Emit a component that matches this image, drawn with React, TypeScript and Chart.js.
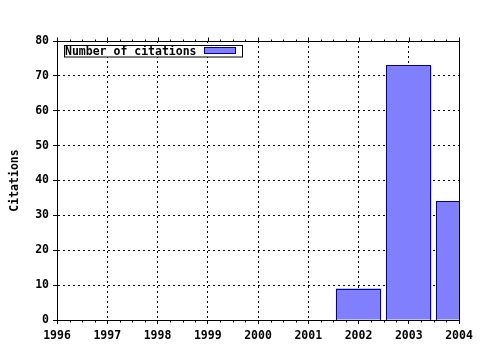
import React, { useEffect, useRef } from 'react';
import { Chart, registerables } from 'chart.js';

Chart.register(...registerables);

// ---- data ----
const years = [2002, 2003, 2004];
const citations = [9, 73, 34];
const xMin = 1996;
const xMax = 2004;
const yMin = 0;
const yMax = 80;
const yStep = 10;
const seriesLabel = 'Number of citations';
const yTitle = 'Citations';

const FONT_FAMILY = "'DejaVu Sans Mono', 'Liberation Mono', monospace";
const FONT_SIZE = 11.5;
const BAR_FILL = '#8080ff';
const BAR_EDGE = '#0000a0';

export default function App() {
  const ref = useRef<HTMLCanvasElement>(null);

  useEffect(() => {
    document.body.style.margin = '0';
    const canvas = ref.current;
    if (!canvas) return;
    const font = { family: FONT_FAMILY, size: FONT_SIZE, weight: 'bold' as const };

    const framePlugin = {
      id: 'frameAndLegend',
      afterDatasetsDraw(chart: any) {
        // crisp bar outlines using the library's bar geometry
        const { ctx, chartArea } = chart;
        const meta = chart.getDatasetMeta(0);
        ctx.save();
        ctx.beginPath();
        ctx.rect(chartArea.left, chartArea.top, chartArea.right - chartArea.left + 1, chartArea.bottom - chartArea.top + 1);
        ctx.clip();
        ctx.strokeStyle = BAR_EDGE;
        ctx.lineWidth = 1;
        ctx.setLineDash([]);
        meta.data.forEach((el: any) => {
          const { x, y, base, width } = el.getProps(['x', 'y', 'base', 'width'], true);
          const l = Math.round(x - width / 2) + 0.5;
          const r = Math.round(x + width / 2) - 0.5;
          const t = Math.round(y) + 0.5;
          const b = Math.round(base) + 0.5;
          ctx.strokeRect(l, t, r - l, b - t);
        });
        ctx.restore();
      },
      afterDraw(chart: any) {
        const { ctx, chartArea } = chart;
        const xs = chart.scales.x;
        const l = Math.round(chartArea.left) + 0.5;
        const r = Math.round(chartArea.right) + 0.5;
        const t = Math.round(chartArea.top) + 0.5;
        const b = Math.round(chartArea.bottom) + 0.5;
        ctx.save();
        ctx.setLineDash([]);
        ctx.strokeStyle = '#000';
        ctx.lineWidth = 1;
        ctx.strokeRect(l, t, r - l, b - t);
        // minor / mirrored ticks on x axis
        ctx.beginPath();
        for (let v = xMin; v <= xMax + 1e-9; v += 0.25) {
          const px = Math.round(xs.getPixelForValue(v)) + 0.5;
          const major = Math.abs(v - Math.round(v)) < 1e-6;
          if (!major) {
            ctx.moveTo(px, b);
            ctx.lineTo(px, b + 2);
            ctx.moveTo(px, t);
            ctx.lineTo(px, t - 2);
          } else {
            ctx.moveTo(px, t);
            ctx.lineTo(px, t - 4);
          }
        }
        ctx.stroke();

        // legend
        const bx = 64.5, by = 45.5, bw = 178, bh = 11.5;
        ctx.fillStyle = '#fff';
        ctx.fillRect(bx, by, bw, bh);
        ctx.strokeRect(bx, by, bw, bh);
        ctx.fillStyle = '#000';
        ctx.font = `bold ${FONT_SIZE}px ${FONT_FAMILY}`;
        ctx.textBaseline = 'alphabetic';
        ctx.textAlign = 'left';
        ctx.fillText(seriesLabel, 65, 55);
        ctx.fillStyle = BAR_FILL;
        ctx.fillRect(204.5, 47.5, 31, 6);
        ctx.strokeStyle = BAR_EDGE;
        ctx.strokeRect(204.5, 47.5, 31, 6);
        ctx.restore();
      },
    };

    const chart = new Chart(canvas, {
      type: 'bar',
      data: {
        datasets: [
          {
            label: seriesLabel,
            data: years.map((y, i) => ({ x: y, y: citations[i] })),
            backgroundColor: BAR_FILL,
            borderColor: BAR_EDGE,
            borderWidth: 0,
            barPercentage: 0.9,
            categoryPercentage: 1,
          },
        ],
      },
      options: {
        responsive: false,
        animation: false,
        devicePixelRatio: 1,
        layout: { padding: { top: 41, right: 21, left: 0, bottom: 0 } },
        plugins: {
          legend: { display: false },
          tooltip: { enabled: false },
        },
        scales: {
          x: {
            type: 'linear',
            min: xMin,
            max: xMax,
            offset: false,
            ticks: {
              stepSize: 1,
              font,
              color: '#000',
              padding: 5,
              maxRotation: 0,
              autoSkip: false,
              callback: (v: any) => String(v),
            },
            grid: {
              offset: false,
              color: '#000',
              lineWidth: 1,
              tickLength: 4,
              tickColor: '#000',
              tickBorderDash: [],
            },
            border: { display: true, color: '#000', width: 1, dash: [2, 3] },
            afterFit: (s: any) => {
              s.height = 30;
            },
          },
          y: {
            type: 'linear',
            min: yMin,
            max: yMax,
            ticks: {
              stepSize: yStep,
              font,
              color: '#000',
              padding: 4,
              callback: (v: any) => String(v),
            },
            grid: {
              color: '#000',
              lineWidth: 1,
              tickLength: 4,
              tickColor: '#000',
              tickBorderDash: [],
            },
            border: { display: true, color: '#000', width: 1, dash: [2, 3] },
            title: {
              display: true,
              text: yTitle,
              font,
              color: '#000',
              padding: { top: 8, bottom: 0 },
            },
            afterFit: (s: any) => {
              s.width = 57;
            },
          },
        },
      },
      plugins: [framePlugin],
    } as any);

    return () => chart.destroy();
  }, []);

  return (
    <div style={{ width: 480, height: 350, background: '#fff' }}>
      <canvas ref={ref} width={480} height={350} style={{ display: 'block' }} />
    </div>
  );
}
